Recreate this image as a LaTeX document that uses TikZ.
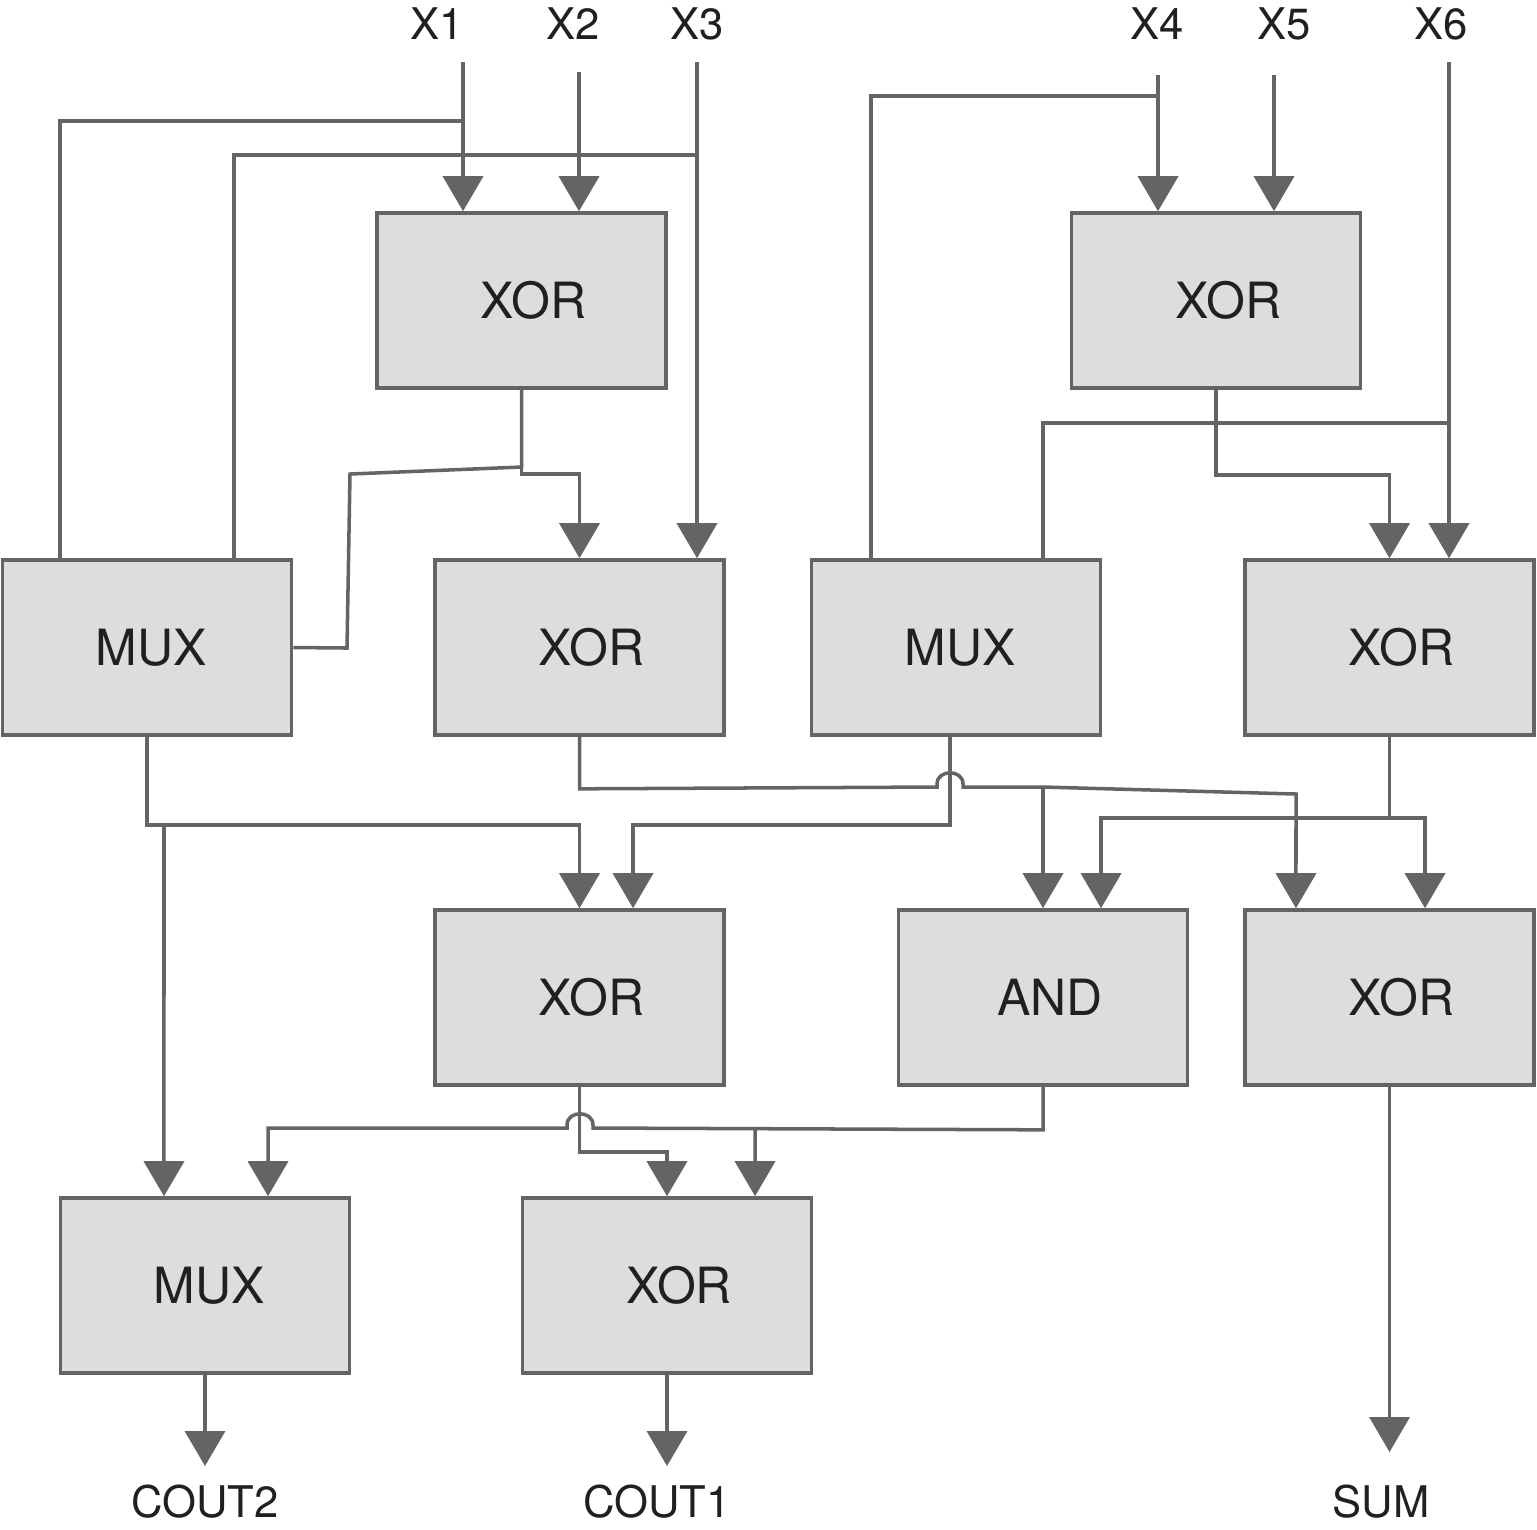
\documentclass[tikz,border=0pt]{standalone}
\usepackage{fontspec}
\setmainfont{TeX Gyre Heros}
\usetikzlibrary{arrows.meta}
\definecolor{wirec}{RGB}{99,100,102}
\definecolor{boxfill}{RGB}{220,221,223}
\definecolor{ink}{RGB}{35,31,32}
\begin{document}
\begin{tikzpicture}[x=0.01cm,y=-0.01cm,
  gate/.style={draw=wirec, fill=boxfill, line width=1pt, minimum width=2.89cm,
    minimum height=1.75cm, inner sep=0pt, text=ink, font=\fontsize{14.2}{16}\selectfont},
  wire/.style={draw=wirec, line width=1pt},
  arr/.style={wire, -{Triangle[length=0.35cm,width=0.40cm]}},
  sig/.style={text=ink, font=\fontsize{12.4}{14}\selectfont, inner sep=0pt}]
\fill[white] (0,0) rectangle (1537,1529);
\useasboundingbox (0,0) rectangle (1537,1529);

% gates
\node[gate] (xa) at (521.5,300.5) {\hspace*{0.24cm}XOR};
\node[gate] (xb) at (1216,300.5) {\hspace*{0.24cm}XOR};
\node[gate] (ma) at (147,647.5) {\hspace*{0.08cm}MUX};
\node[gate] (xc) at (579.5,647.5) {\hspace*{0.24cm}XOR};
\node[gate] (mb) at (956,647.5) {\hspace*{0.08cm}MUX};
\node[gate] (xd) at (1389.5,647.5) {\hspace*{0.24cm}XOR};
\node[gate] (xe) at (579.5,997.5) {\hspace*{0.24cm}XOR};
\node[gate] (an) at (1043,997.5) {\hspace*{0.14cm}AND};
\node[gate] (xf) at (1389.5,997.5) {\hspace*{0.24cm}XOR};
\node[gate] (mc) at (205,1285.5) {\hspace*{0.08cm}MUX};
\node[gate] (xg) at (667,1285.5) {\hspace*{0.24cm}XOR};

% signal labels
\node[sig] (lx1) at (437,24) {X1};
\node[sig] (lx2) at (573,24) {X2};
\node[sig] (lx3) at (697,24) {X3};
\node[sig] (lx4) at (1157,24) {X4};
\node[sig] (lx5) at (1284,24) {X5};
\node[sig] (lx6) at (1441,24) {X6};
\node[sig] (lc2) at (205,1502) {COUT2};
\node[sig] (lc1) at (657,1502) {COUT1};
\node[sig] (ls) at (1381,1502) {SUM};

% wire ends
\coordinate (i1) at (463,62);
\coordinate (i2) at (579,72);
\coordinate (i3) at (697,62);
\coordinate (i4) at (1158,75);
\coordinate (i5) at (1274,75);
\coordinate (i6) at (1449,62);
\coordinate (o1) at (205,1466);
\coordinate (o2) at (667,1466);
\coordinate (o3) at (1389.5,1452);

% junctions
\coordinate (j1) at (463,121);
\coordinate (j3) at (697,155);
\coordinate (j4) at (1158,96);
\coordinate (j6) at (1449,423);
\coordinate (j7) at (521.5,467);
\coordinate (j9) at (1043,787);
\coordinate (j11) at (164,823);
\coordinate (j12) at (1389.5,818);
\coordinate (j15) at (755,1128);

% inputs
\draw[arr] (i1) -- (i1 |- xa.north);
\draw[wire] (j1) -| ([xshift=-0.87cm]ma.north);
\draw[arr] (i2) -- (i2 |- xa.north);
\draw[arr] (i3) -- (i3 |- xc.north);
\draw[wire] (j3) -| ([xshift=0.87cm]ma.north);
\draw[arr] (i4) -- (i4 |- xb.north);
\draw[wire] (j4) -| ([xshift=-0.85cm]mb.north);
\draw[arr] (i5) -- (i5 |- xb.north);
\draw[arr] (i6) -- (i6 |- xd.north);
\draw[wire] (j6) -| ([xshift=0.87cm]mb.north);

% XOR1 out
\draw[wire] (xa.south) -- (j7) -- (350,474) -- (347,648) -- (ma.east);
\draw[arr] (j7) -- ++(0,7) -| (xc.north);
% XOR2 out
\draw[arr] (xb.south) -- ++(0,85) -| (xd.north);
% XOR3 out
\draw[wire] (xc.south) -- ++(0,52) -- (937,787) -- (937,784) .. controls (937,769) and (963,769) .. (963,784) -- (963,787) -- (j9);
\draw[arr] (j9) -- (an.north);
\draw[arr] (j9) -- (1296,794) -- ([xshift=-0.935cm]xf.north);
% MUX2 out
\draw[arr] ([xshift=-0.06cm]mb.south) -- ++(0,88) -| ([xshift=0.535cm]xe.north);
% MUX1 out
\draw[arr] (ma.south) -- ++(0,88) -| (xe.north);
\draw[arr] (j11) -- ([xshift=-0.41cm]mc.north);
% XOR4 out
\draw[wire] (xd.south) -- (j12);
\draw[arr] (j12) -| ([xshift=0.58cm]an.north);
\draw[arr] (j12) -| ([xshift=0.355cm]xf.north);
% XOR6 out
\draw[arr] (xf.south) -- (o3);
% XOR5 out
\draw[arr] (xe.south) -- ++(0,65) -| (xg.north);
% AND out
\draw[arr] (an.south) -- ++(0,43) -- (593,1128) -- (593,1125) .. controls (593,1110) and (567,1110) .. (567,1125) -- (567,1128) -| ([xshift=0.63cm]mc.north);
\draw[arr] (j15) -- ([xshift=0.88cm]xg.north);
% outputs
\draw[arr] (mc.south) -- (o1);
\draw[arr] (xg.south) -- (o2);
\end{tikzpicture}
\end{document}
